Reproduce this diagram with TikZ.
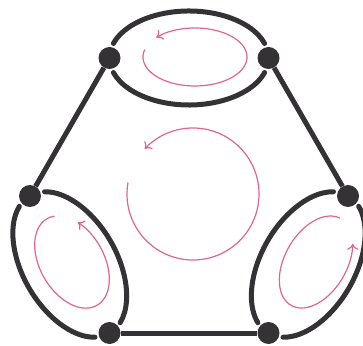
\documentclass[tikz,border=0pt]{standalone}
\usetikzlibrary{arrows.meta,calc}
\definecolor{ink}{RGB}{52,50,52}
\definecolor{loopc}{RGB}{225,100,145}
\begin{document}
\begin{tikzpicture}[x=1pt,y=1pt,
  dot/.style={circle,fill=ink,inner sep=0pt,minimum size=22pt},
  edge/.style={draw=ink,line width=5pt},
  lensarc/.style={edge,line cap=round},
  flow/.style={draw=loopc,line width=1.2pt,-{To[length=6pt,width=11pt]}}]
\useasboundingbox (0,0) rectangle (363,345);
% vertices
\node[dot] (TL) at (109.5,287) {};
\node[dot] (TR) at (268.5,287) {};
\node[dot] (R)  at (348,149) {};
\node[dot] (BR) at (268.5,12) {};
\node[dot] (BL) at (109.5,12) {};
\node[dot] (L)  at (30,149) {};
\coordinate (mT) at ($(TL)!0.5!(TR)$);
\coordinate (mL) at ($(L)!0.5!(BL)$);
\coordinate (mR) at ($(R)!0.5!(BR)$);
% straight edges
\draw[edge] (TL) -- (L);
\draw[edge] (TR) -- (R);
\draw[edge] (BL) -- (BR);
% lens edges (ellipses through the two vertices)
\foreach \m/\r in {mT/0, mL/-60, mR/60}{
  \begin{scope}[shift={(\m)},rotate=\r]
    \draw[lensarc] (18:79.5 and 47) arc[start angle=18,end angle=162,x radius=79.5,y radius=47];
    \draw[lensarc] (198:79.5 and 47) arc[start angle=198,end angle=342,x radius=79.5,y radius=47];
  \end{scope}
}
% loops
\begin{scope}[shift={(195,288)}]
\draw[flow] (165:52 and 29) arc[start angle=165,end angle=498,x radius=52,y radius=29];
\end{scope}
\begin{scope}[shift={(193,151)}]
\draw[flow] (170:66) arc[start angle=170,end angle=497,radius=66];
\end{scope}
\begin{scope}[shift={(72,83)},rotate=-60]
\draw[flow] (166:50 and 32) arc[start angle=166,end angle=489,x radius=50,y radius=32];
\end{scope}
\begin{scope}[shift={(316,83)},rotate=60]
\draw[flow] (2:50 and 31) arc[start angle=2,end angle=313,x radius=50,y radius=31];
\end{scope}
\end{tikzpicture}
\end{document}
